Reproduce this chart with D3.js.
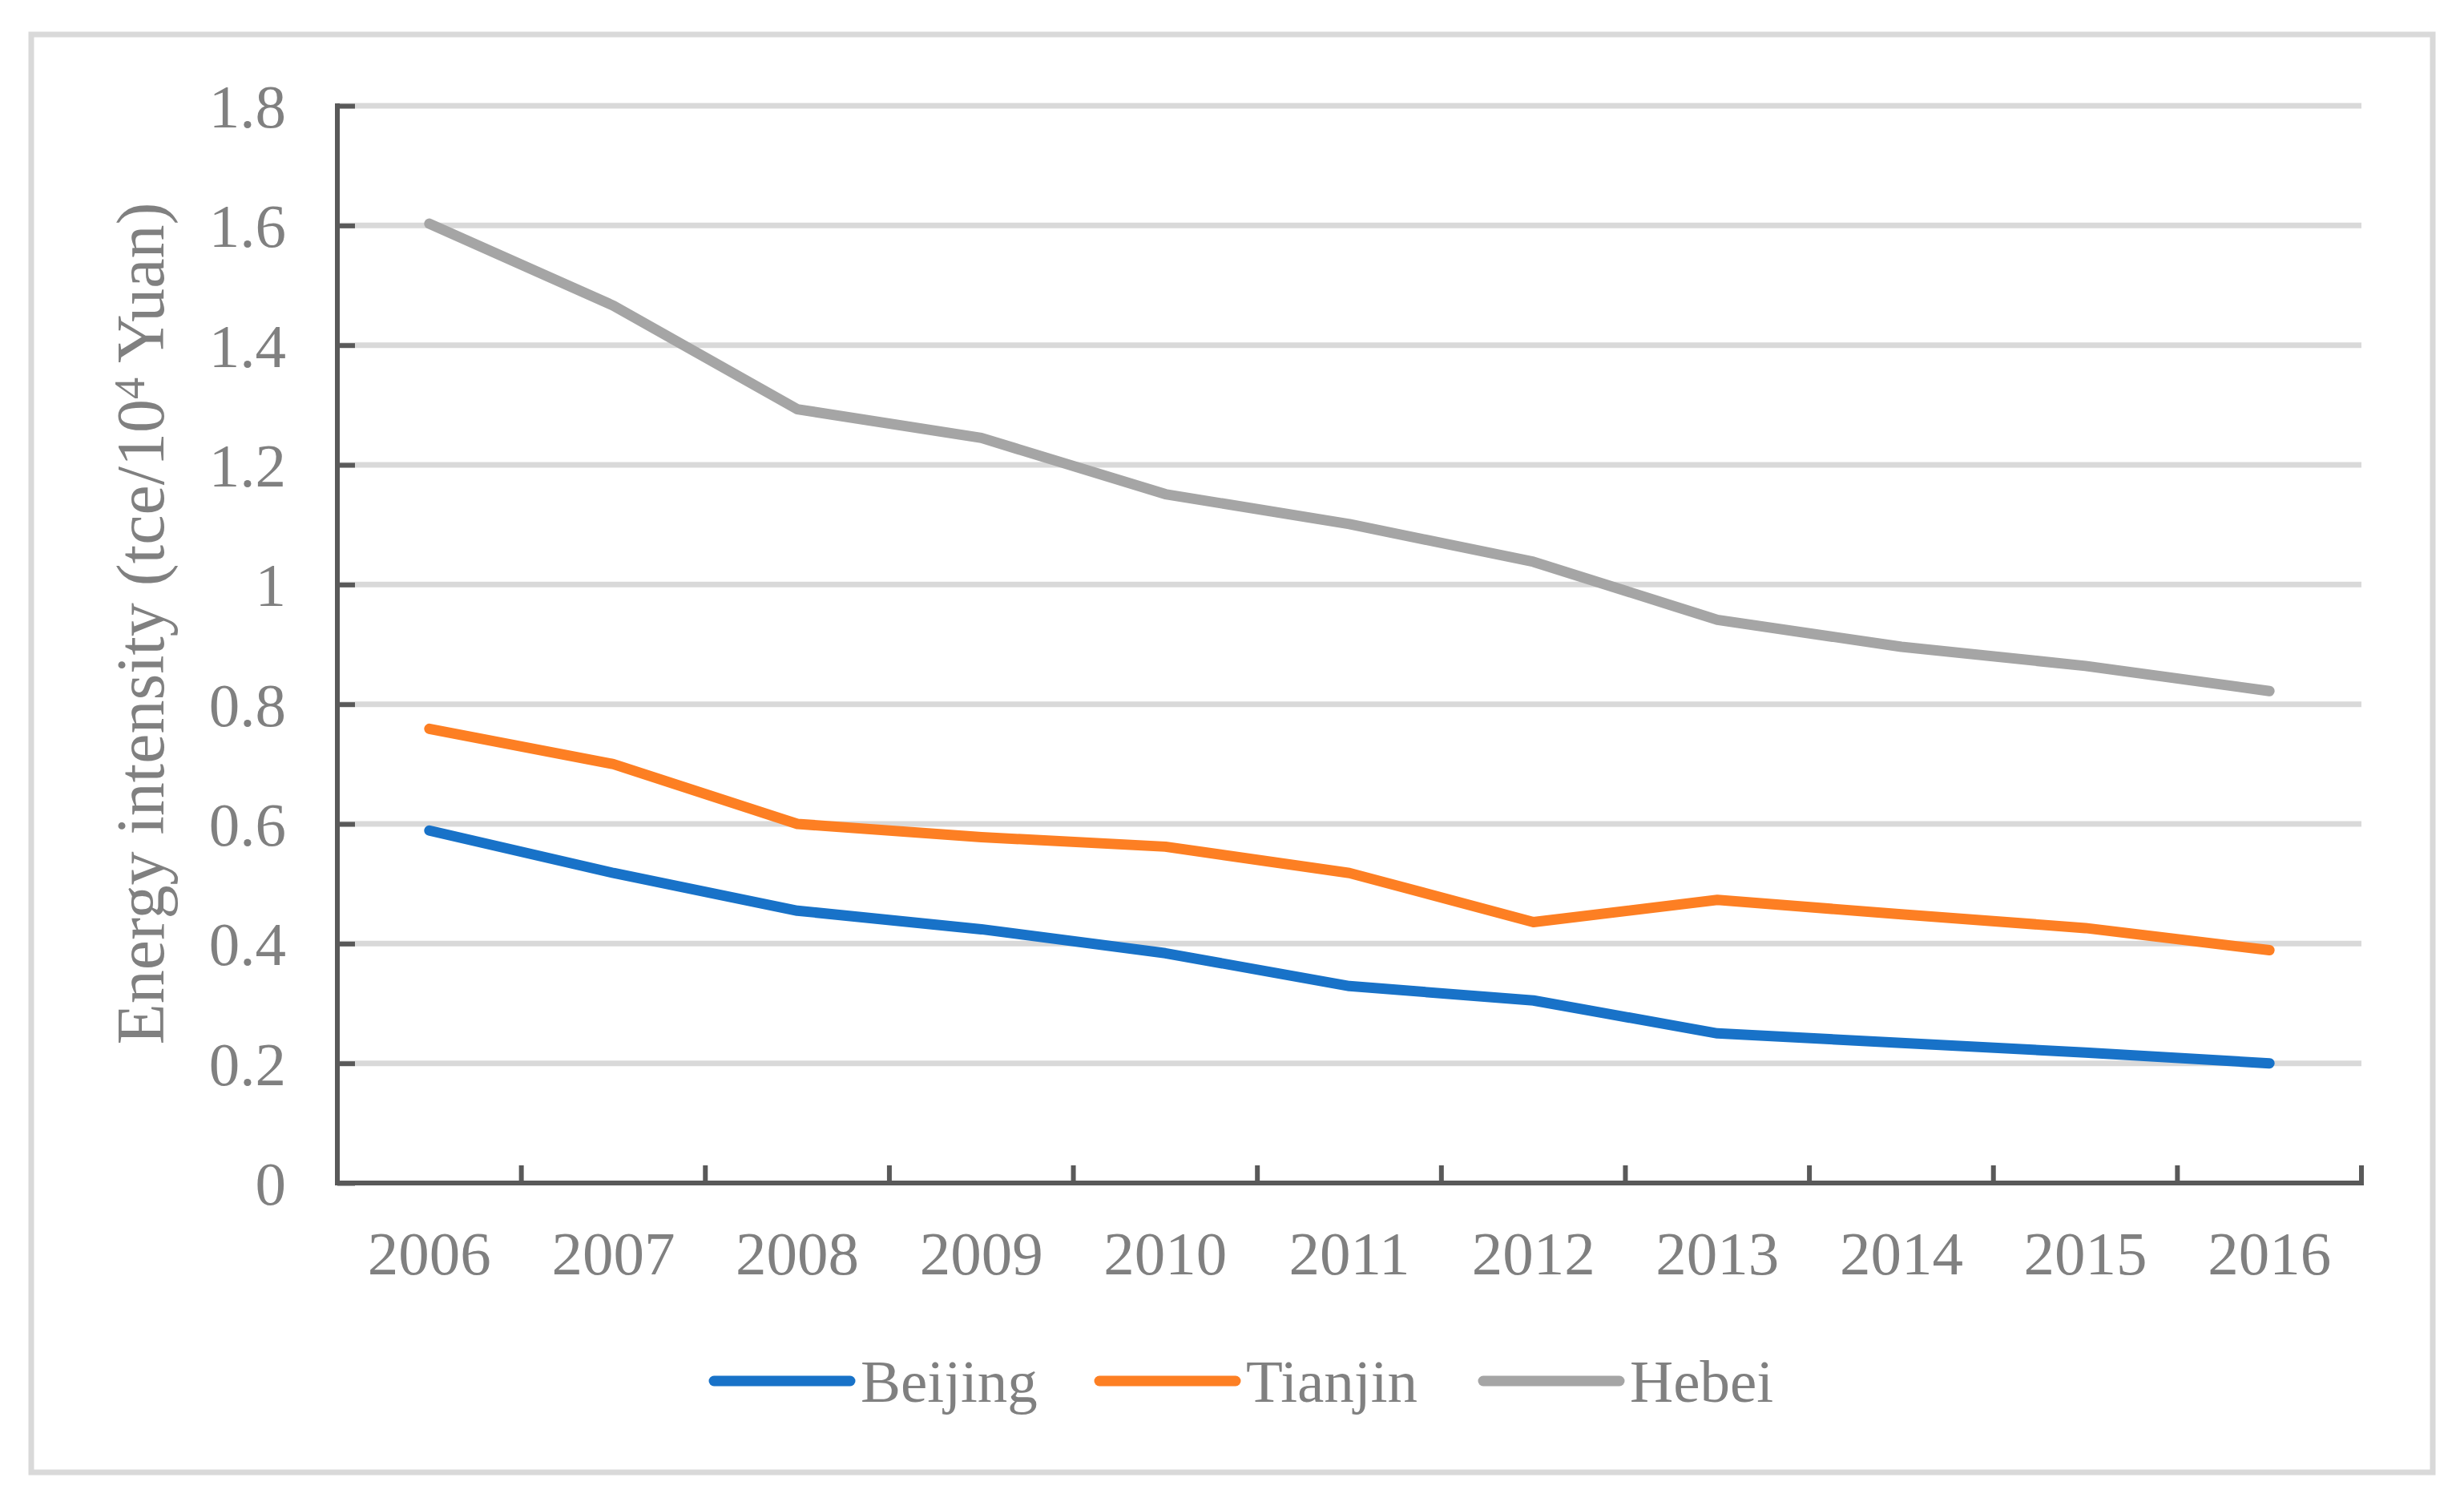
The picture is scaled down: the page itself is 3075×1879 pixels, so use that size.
<!DOCTYPE html>
<html>
<head>
<meta charset="utf-8">
<script src="https://cdn.jsdelivr.net/npm/d3@7"></script>
<style>
  html, body { margin: 0; padding: 0; background: #fff; }
  svg { display: block; }
</style>
</head>
<body>
<svg id="chart" width="3075" height="1879"></svg>
<script>
const years = ["2006","2007","2008","2009","2010","2011","2012","2013","2014","2015","2016"];
const beijing = [0.589, 0.518, 0.455, 0.424, 0.384, 0.329, 0.305, 0.250, 0.234, 0.218, 0.200];
const tianjin = [0.759, 0.700, 0.600, 0.578, 0.562, 0.518, 0.436, 0.473, 0.449, 0.426, 0.389];
const hebei   = [1.603, 1.466, 1.293, 1.245, 1.151, 1.101, 1.038, 0.941, 0.896, 0.864, 0.822];
const seriesNames = ["Beijing", "Tianjin", "Hebei"];
const yTicks = [0, 0.2, 0.4, 0.6, 0.8, 1, 1.2, 1.4, 1.6, 1.8];

const colors = { Beijing: "#1872C8", Tianjin: "#FD7F23", Hebei: "#A5A5A5" };
const seriesData = { Beijing: beijing, Tianjin: tianjin, Hebei: hebei };

const svg = d3.select("#chart");
const FONT = "'Liberation Serif', 'Times New Roman', serif";
const TXT = "#808080";
const AX = "#595959";
const GRID = "#D9D9D9";

const pLeft = 421, pRight = 2947, pTop = 132, pBottom = 1476;

// outer border
svg.append("rect")
  .attr("x", 39).attr("y", 43).attr("width", 2997).attr("height", 1794)
  .attr("fill", "#fff").attr("stroke", "#D9D9D9").attr("stroke-width", 7);

const x = d3.scaleBand().domain(years).range([pLeft, pRight]).padding(0);
const y = d3.scaleLinear().domain([0, 1.8]).range([pBottom, pTop]);

// gridlines
svg.append("g").selectAll("line")
  .data(yTicks.filter(d => d > 0))
  .join("line")
  .attr("x1", pLeft).attr("x2", pRight)
  .attr("y1", d => y(d)).attr("y2", d => y(d))
  .attr("stroke", GRID).attr("stroke-width", 7);

// y axis
const yAxis = d3.axisRight(y).tickValues(yTicks).tickSize(22).tickFormat("");
const gy = svg.append("g").attr("transform", `translate(${pLeft},0)`).call(yAxis);
gy.select(".domain").remove();
gy.selectAll(".tick line").attr("stroke", AX).attr("stroke-width", 6);
svg.append("line").attr("x1", pLeft).attr("x2", pLeft).attr("y1", pTop - 3).attr("y2", pBottom)
  .attr("stroke", AX).attr("stroke-width", 6);

// y tick labels
svg.append("g").selectAll("text")
  .data(yTicks)
  .join("text")
  .attr("x", 357).attr("y", d => y(d))
  .attr("dy", "0.35em")
  .attr("text-anchor", "end")
  .attr("font-family", FONT).attr("font-size", 77).attr("fill", TXT)
  .text(d => d3.format("")(d));

// x axis
const xBound = years.map(d => x(d)).concat([pRight]);
svg.append("line").attr("x1", pLeft - 3).attr("x2", pRight + 3).attr("y1", pBottom).attr("y2", pBottom)
  .attr("stroke", AX).attr("stroke-width", 6);
svg.append("g").selectAll("line")
  .data(xBound)
  .join("line")
  .attr("x1", d => d).attr("x2", d => d)
  .attr("y1", pBottom).attr("y2", pBottom - 22)
  .attr("stroke", AX).attr("stroke-width", 6);

svg.append("g").selectAll("text")
  .data(years)
  .join("text")
  .attr("x", d => x(d) + x.bandwidth() / 2)
  .attr("y", 1563).attr("dy", "0.35em")
  .attr("text-anchor", "middle")
  .attr("font-family", FONT).attr("font-size", 77).attr("fill", TXT)
  .text(d => d);

// lines
const line = d3.line()
  .x((d, i) => x(years[i]) + x.bandwidth() / 2)
  .y(d => y(d));
svg.append("g").selectAll("path")
  .data(seriesNames)
  .join("path")
  .attr("d", s => line(seriesData[s]))
  .attr("fill", "none")
  .attr("stroke", s => colors[s])
  .attr("stroke-width", 13)
  .attr("stroke-linecap", "round")
  .attr("stroke-linejoin", "round");

// y axis title
const title = svg.append("text")
  .attr("transform", "translate(204,778) rotate(-90)")
  .attr("text-anchor", "middle")
  .attr("font-family", FONT).attr("font-size", 84).attr("fill", TXT);
title.append("tspan").text("Energy intensity (tce/10");
title.append("tspan").attr("font-size", 54).attr("dy", -24).text("4");
title.append("tspan").attr("dy", 24).text(" Yuan)");

// legend
const legendX = [891, 1372, 1851];
const legendY = 1723;
const lg = svg.append("g").selectAll("g")
  .data(seriesNames)
  .join("g")
  .attr("transform", (d, i) => `translate(${legendX[i]},${legendY})`);
lg.append("line")
  .attr("x1", 0).attr("x2", 170).attr("y1", 0).attr("y2", 0)
  .attr("stroke", d => colors[d]).attr("stroke-width", 13).attr("stroke-linecap", "round");
lg.append("text")
  .attr("x", 183).attr("y", 0).attr("dy", "0.35em")
  .attr("font-family", FONT).attr("font-size", 75).attr("fill", TXT)
  .text(d => d);
</script>
</body>
</html>
